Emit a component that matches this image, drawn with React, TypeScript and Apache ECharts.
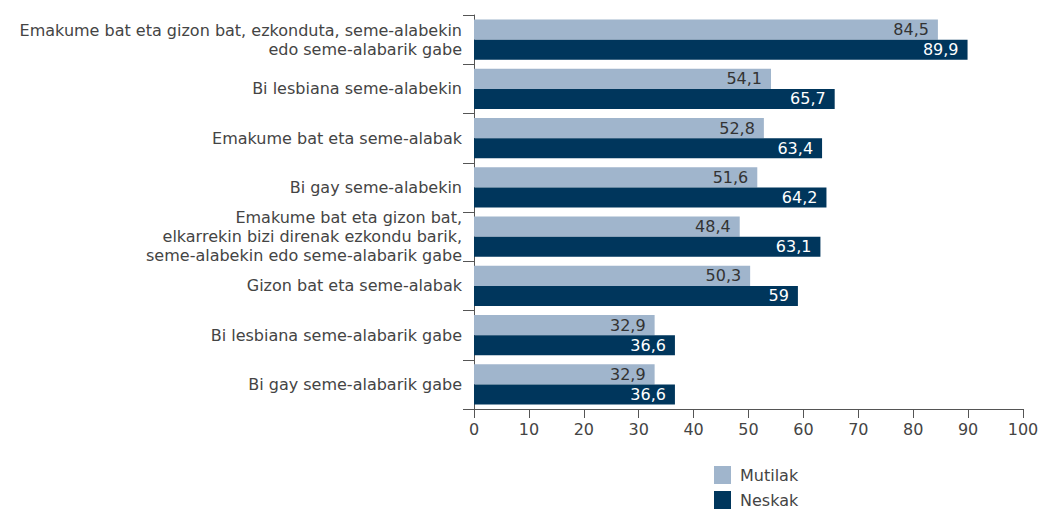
import React, { useEffect, useRef } from "react";
import * as echarts from "echarts";

const categories = [
  "Emakume bat eta gizon bat, ezkonduta, seme-alabekin\nedo seme-alabarik gabe",
  "Bi lesbiana seme-alabekin",
  "Emakume bat eta seme-alabak",
  "Bi gay seme-alabekin",
  "Emakume bat eta gizon bat,\nelkarrekin bizi direnak ezkondu barik,\nseme-alabekin edo seme-alabarik gabe",
  "Gizon bat eta seme-alabak",
  "Bi lesbiana seme-alabarik gabe",
  "Bi gay seme-alabarik gabe",
];
const mutilak = [84.5, 54.1, 52.8, 51.6, 48.4, 50.3, 32.9, 32.9];
const neskak = [89.9, 65.7, 63.4, 64.2, 63.1, 59, 36.6, 36.6];
const seriesNames = ["Mutilak", "Neskak"];

const FONT = "DejaVu Sans";
const TXT = "#444";
const fmt = (p: any) => String(p.value).replace(".", ",");

export default function App() {
  const ref = useRef<HTMLDivElement>(null);
  useEffect(() => {
    document.body.style.margin = "0";
    if (!ref.current) return;
    const chart = echarts.init(ref.current, null, { renderer: "svg" });
    const legendBase = {
      orient: "vertical",
      left: 709,
      itemWidth: 17,
      itemHeight: 18,
      icon: "rect",
      textStyle: { fontSize: 16, color: TXT, fontFamily: FONT, padding: [0, 0, 0, 4] },
    };
    chart.setOption({
      animation: false,
      textStyle: { fontFamily: FONT },
      grid: { left: 474, right: 24, top: 15, bottom: 102 },
      legend: [
        { ...legendBase, top: 461, data: [seriesNames[0]] },
        { ...legendBase, top: 486, data: [seriesNames[1]] },
      ],
      xAxis: {
        type: "value",
        min: 0,
        max: 100,
        interval: 10,
        axisLine: { show: true, lineStyle: { color: "#555" } },
        axisTick: { show: true, length: 9, lineStyle: { color: "#555" } },
        splitLine: { show: false },
        axisLabel: { fontSize: 16, color: TXT, margin: 12, fontFamily: FONT },
      },
      yAxis: {
        type: "category",
        inverse: true,
        data: categories,
        axisLine: { show: true, lineStyle: { color: "#555" } },
        axisTick: { show: true, length: 11, lineStyle: { color: "#555" } },
        axisLabel: {
          fontSize: 16,
          color: TXT,
          margin: 12,
          lineHeight: 19,
          fontFamily: FONT,
        },
      },
      series: [
        {
          name: seriesNames[0],
          type: "bar",
          data: mutilak,
          barGap: "0%",
          barCategoryGap: "18%",
          itemStyle: { color: "#a0b5cc" },
          label: {
            show: true,
            position: "insideRight",
            distance: 9,
            formatter: fmt,
            color: "#333",
            fontSize: 16,
            fontFamily: FONT,
          },
        },
        {
          name: seriesNames[1],
          type: "bar",
          data: neskak,
          barGap: "0%",
          barCategoryGap: "18%",
          itemStyle: { color: "#00365c" },
          label: {
            show: true,
            position: "insideRight",
            distance: 9,
            formatter: fmt,
            color: "#fff",
            fontSize: 16,
            fontFamily: FONT,
          },
        },
      ],
    });
    return () => chart.dispose();
  }, []);
  return <div ref={ref} style={{ width: 1047, height: 511 }} />;
}
